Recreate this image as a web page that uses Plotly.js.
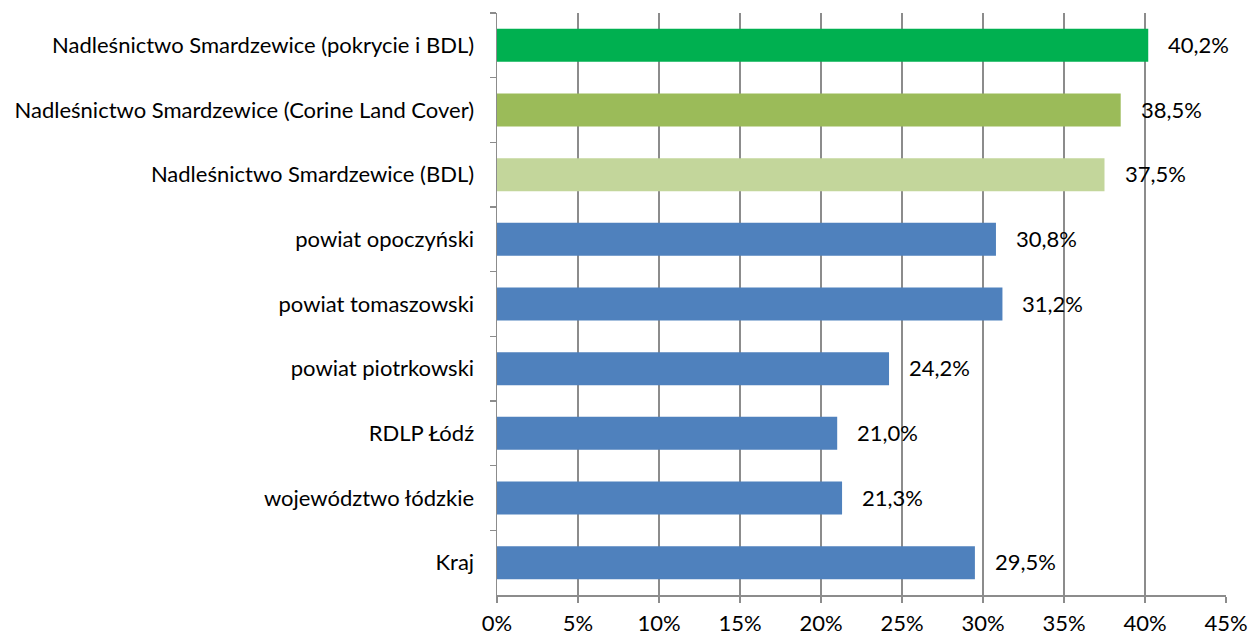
<!DOCTYPE html>
<html>
<head>
<meta charset="utf-8">
<script src="https://cdn.plot.ly/plotly-3.0.1.min.js"></script>
<style>html,body{margin:0;padding:0;background:#fff;}#chart{width:1252px;height:636px;}</style>
</head>
<body>
<div id="chart"></div>
<script>
const categories = [
  "Nadleśnictwo Smardzewice (pokrycie i BDL)",
  "Nadleśnictwo Smardzewice (Corine Land Cover)",
  "Nadleśnictwo Smardzewice (BDL)",
  "powiat opoczyński",
  "powiat tomaszowski",
  "powiat piotrkowski",
  "RDLP Łódź",
  "województwo łódzkie",
  "Kraj"
];
const values = [40.2, 38.5, 37.5, 30.8, 31.2, 24.2, 21.0, 21.3, 29.5];
const barColors = ["#00B050", "#9BBB59", "#C3D69B", "#4F81BD", "#4F81BD", "#4F81BD", "#4F81BD", "#4F81BD", "#4F81BD"];
const tickValues = [0, 5, 10, 15, 20, 25, 30, 35, 40, 45];

const FONT = "Lato, 'Open Sans', sans-serif";

const trace = {
  type: "bar",
  orientation: "h",
  y: categories,
  x: values,
  marker: { color: barColors, line: { width: 0 } },
  hoverinfo: "none"
};

const annotations = values.map((v, i) => ({
  x: v, y: categories[i], xref: "x", yref: "y",
  text: v.toFixed(1).replace(".", ",") + "%",
  showarrow: false, xanchor: "left", yanchor: "middle",
  xshift: 18, yshift: 1,
  font: { family: FONT, size: 22, color: "#000" }
}));

const layout = {
  width: 1252, height: 636,
  margin: { l: 497, r: 26, t: 13, b: 41, pad: 0 },
  paper_bgcolor: "#fff", plot_bgcolor: "#fff",
  bargap: 0.49,
  showlegend: false,
  separators: ", ",
  xaxis: {
    range: [0, 45], tickvals: tickValues, ticktext: tickValues.map(t => t + "%"),
    showgrid: true, gridcolor: "#8c8c8c", gridwidth: 1.5,
    zeroline: false, showline: true, linecolor: "#8c8c8c", linewidth: 1.5,
    ticks: "outside", ticklen: 6, tickcolor: "#8c8c8c", tickwidth: 1.5,
    ticklabelstandoff: 2,
    tickfont: { family: FONT, size: 22, color: "#000" },
    fixedrange: true
  },
  yaxis: {
    type: "category", autorange: "reversed",
    showgrid: false, zeroline: false, showline: true, linecolor: "#8c8c8c", linewidth: 1.5,
    ticks: "outside", ticklen: 6, tickcolor: "#8c8c8c", tickwidth: 1.5,
    tickson: "boundaries",
    ticklabelstandoff: 17,
    tickfont: { family: FONT, size: 22, color: "#000" },
    fixedrange: true
  },
  annotations: annotations
};

Plotly.newPlot("chart", [trace], layout, { staticPlot: true, displayModeBar: false });
</script>
</body>
</html>
